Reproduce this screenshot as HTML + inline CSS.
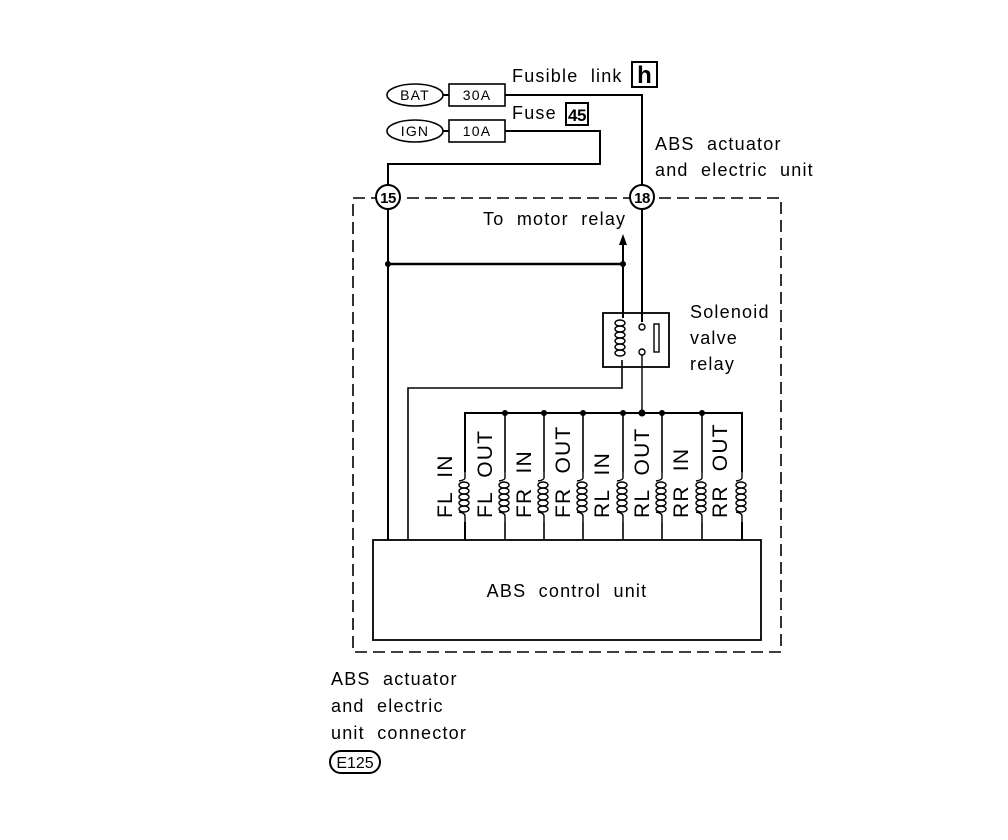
<!DOCTYPE html>
<html><head><meta charset="utf-8"><style>
html,body{margin:0;padding:0;background:#fff}
svg{display:block}
text{font-family:"Liberation Sans",sans-serif;fill:#000;white-space:pre;letter-spacing:1.2px}
</style></head><body>
<svg width="1008" height="840" viewBox="0 0 1008 840" xmlns="http://www.w3.org/2000/svg" xml:space="preserve">
<defs>
<g id="coil" fill="none" stroke="#000" stroke-width="1.4">
<path d="M0,0 V6 Q0,8 -6,9 M-6,40 Q0,41 0,44 V50"/>
<ellipse cx="-1" cy="13" rx="5" ry="3"/>
<ellipse cx="-1" cy="19" rx="5" ry="3"/>
<ellipse cx="-1" cy="25" rx="5" ry="3"/>
<ellipse cx="-1" cy="31" rx="5" ry="3"/>
<ellipse cx="-1" cy="37" rx="5" ry="3"/>
</g>
</defs>
<g stroke="#000" fill="none" stroke-width="2">
<ellipse cx="415" cy="95" rx="28" ry="11" stroke-width="1.6"/>
<ellipse cx="415" cy="131" rx="28" ry="11" stroke-width="1.6"/>
<line x1="443" y1="95" x2="449" y2="95"/>
<line x1="443" y1="131" x2="449" y2="131"/>
<rect x="449" y="84" width="56" height="22" stroke-width="1.6"/>
<rect x="449" y="120" width="56" height="22" stroke-width="1.6"/>
<polyline points="505,95 642,95 642,185"/>
<polyline points="505,131 600,131 600,164 388,164 388,185"/>
<rect x="353" y="198" width="428" height="454" stroke-dasharray="12,6" stroke-width="1.6"/>
<circle cx="388" cy="197" r="12" fill="#fff" stroke-width="2"/>
<circle cx="642" cy="197" r="12" fill="#fff" stroke-width="2"/>
<line x1="388" y1="209" x2="388" y2="540"/>
<line x1="642" y1="209" x2="642" y2="322"/>
<line x1="388" y1="264" x2="623" y2="264" stroke-width="2.6"/>
<line x1="623" y1="244" x2="623" y2="318"/>
<rect x="603" y="313" width="66" height="54" stroke-width="1.8"/>
<polyline points="622,360 622,388 408,388 408,540" stroke-width="1.6"/>
<line x1="642" y1="354" x2="642" y2="413" stroke-width="1.4"/>
<rect x="654" y="324" width="5" height="28" stroke-width="1.4"/>
<polyline points="465,540 465,413 742,413 742,540"/>
<g stroke-width="1.6">
<line x1="505" y1="413" x2="505" y2="540"/>
<line x1="544" y1="413" x2="544" y2="540"/>
<line x1="583" y1="413" x2="583" y2="540"/>
<line x1="623" y1="413" x2="623" y2="540"/>
<line x1="662" y1="413" x2="662" y2="540"/>
<line x1="702" y1="413" x2="702" y2="540"/>
</g>
<rect x="373" y="540" width="388" height="100" stroke-width="1.8"/>
</g>
<g fill="none" stroke="#000" stroke-width="1.4">
<ellipse cx="620" cy="323" rx="5" ry="3"/>
<ellipse cx="620" cy="329" rx="5" ry="3"/>
<ellipse cx="620" cy="335" rx="5" ry="3"/>
<ellipse cx="620" cy="341" rx="5" ry="3"/>
<ellipse cx="620" cy="347" rx="5" ry="3"/>
<ellipse cx="620" cy="353" rx="5" ry="3"/>
</g>
<circle cx="642" cy="327" r="3" fill="#fff" stroke="#000" stroke-width="1.4"/>
<circle cx="642" cy="352" r="3" fill="#fff" stroke="#000" stroke-width="1.4"/>
<g fill="#fff">
<rect x="455" y="472" width="20" height="50"/><rect x="495" y="472" width="20" height="50"/>
<rect x="534" y="472" width="20" height="50"/><rect x="573" y="472" width="20" height="50"/>
<rect x="613" y="472" width="20" height="50"/><rect x="652" y="472" width="20" height="50"/>
<rect x="692" y="472" width="20" height="50"/><rect x="732" y="472" width="20" height="50"/>
</g>
<use href="#coil" x="465" y="472"/><use href="#coil" x="505" y="472"/>
<use href="#coil" x="544" y="472"/><use href="#coil" x="583" y="472"/>
<use href="#coil" x="623" y="472"/><use href="#coil" x="662" y="472"/>
<use href="#coil" x="702" y="472"/><use href="#coil" x="742" y="472"/>
<polygon points="623,234 619,245 627,245" fill="#000"/>
<g fill="#000">
<circle cx="388" cy="264" r="3"/><circle cx="623" cy="264" r="3"/>
<circle cx="505" cy="413" r="3"/><circle cx="544" cy="413" r="3"/><circle cx="583" cy="413" r="3"/>
<circle cx="623" cy="413" r="3"/><circle cx="642" cy="413" r="3.5"/><circle cx="662" cy="413" r="3"/><circle cx="702" cy="413" r="3"/>
</g>
<g style="letter-spacing:0.5px">
<text x="415" y="100" font-size="14" text-anchor="middle">BAT</text>
<text x="415" y="136" font-size="14" text-anchor="middle">IGN</text>
<text x="477" y="100" font-size="14" text-anchor="middle">30A</text>
<text x="477" y="136" font-size="14" text-anchor="middle">10A</text>
</g>
<text x="512" y="82" font-size="18">Fusible  link</text>
<rect x="632" y="62" width="25" height="25" fill="#fff" stroke="#000" stroke-width="2"/>
<text x="644.5" y="83" font-size="24" font-weight="bold" text-anchor="middle" style="letter-spacing:0">h</text>
<text x="512" y="119" font-size="18">Fuse</text>
<rect x="566" y="103" width="22" height="22" fill="#fff" stroke="#000" stroke-width="2"/>
<text x="577" y="121" font-size="17" font-weight="bold" text-anchor="middle" style="letter-spacing:-0.5px">45</text>
<text x="655" y="150" font-size="18">ABS  actuator</text>
<text x="655" y="176" font-size="18">and  electric  unit</text>
<text x="388" y="203" font-size="15" font-weight="bold" text-anchor="middle" style="letter-spacing:-0.5px">15</text>
<text x="642" y="203" font-size="15" font-weight="bold" text-anchor="middle" style="letter-spacing:-0.5px">18</text>
<text x="483" y="225" font-size="18">To  motor  relay</text>
<text x="690" y="318" font-size="18">Solenoid</text>
<text x="690" y="344" font-size="18">valve</text>
<text x="690" y="370" font-size="18">relay</text>
<g font-size="21" style="letter-spacing:0">
<text transform="translate(452,518) rotate(-90)">FL  IN</text>
<text transform="translate(492,518) rotate(-90)">FL  OUT</text>
<text transform="translate(531,518) rotate(-90)">FR  IN</text>
<text transform="translate(570,518) rotate(-90)">FR  OUT</text>
<text transform="translate(609,518) rotate(-90)">RL  IN</text>
<text transform="translate(649,518) rotate(-90)">RL  OUT</text>
<text transform="translate(688,518) rotate(-90)">RR  IN</text>
<text transform="translate(727,518) rotate(-90)">RR  OUT</text>
</g>
<text x="567" y="597" font-size="18" text-anchor="middle">ABS  control  unit</text>
<text x="331" y="685" font-size="18">ABS  actuator</text>
<text x="331" y="712" font-size="18">and  electric</text>
<text x="331" y="739" font-size="18">unit  connector</text>
<rect x="330" y="751" width="50" height="22" rx="11" fill="#fff" stroke="#000" stroke-width="2"/>
<text x="355" y="768" font-size="16" text-anchor="middle" style="letter-spacing:0">E125</text>
</svg>
</body></html>
